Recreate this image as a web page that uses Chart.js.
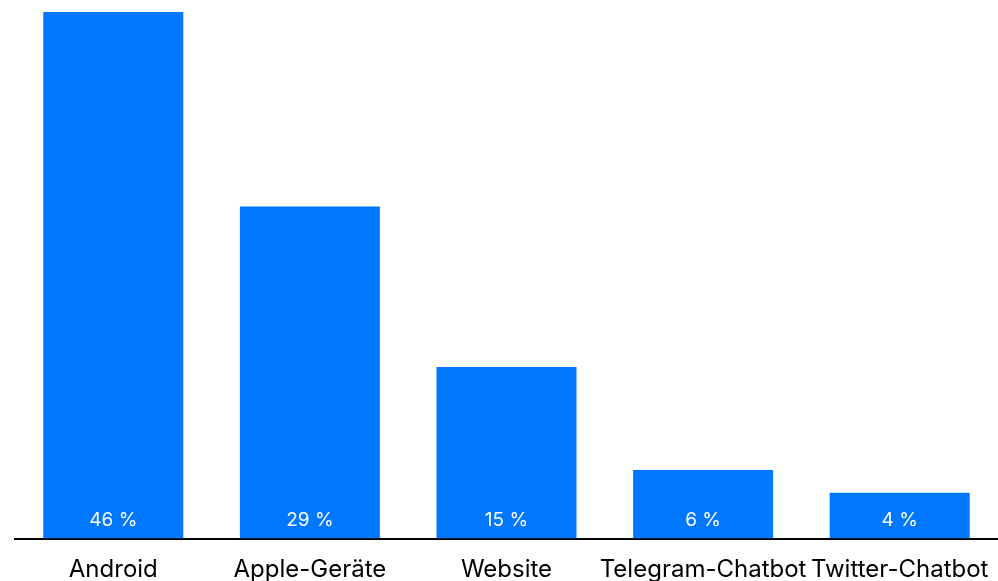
<!DOCTYPE html>
<html>
<head>
<meta charset="utf-8">
<script src="https://cdn.jsdelivr.net/npm/chart.js@4/dist/chart.umd.min.js"></script>
<style>
  html, body { margin: 0; padding: 0; background: #fff; }
  #wrap { width: 998px; height: 581px; }
</style>
</head>
<body>
<div id="wrap"><canvas id="myChart" width="998" height="581"></canvas></div>
<script>
'use strict';

const categories = ['Android', 'Apple-Geräte', 'Website', 'Telegram-Chatbot', 'Twitter-Chatbot'];
const shares = [46, 29, 15, 6, 4];
const valueLabels = ['46 %', '29 %', '15 %', '6 %', '4 %'];

const barBlue = '#0077ff';

// white percentage text at the foot of each bar
const valueLabelPlugin = {
  id: 'valueLabels',
  afterDatasetsDraw: (chart) => {
    const c = chart.ctx;
    const meta = chart.getDatasetMeta(0);
    c.save();
    c.fillStyle = '#ffffff';
    c.font = '19px Inter, "Open Sans", sans-serif';
    c.textAlign = 'center';
    c.textBaseline = 'middle';
    meta.data.forEach((bar, i) => {
      c.fillText(valueLabels[i], bar.x, bar.base - 18);
    });
    c.restore();
  }
};

const ctx = document.getElementById('myChart');
new Chart(ctx, {
  type: 'bar',
  data: {
    labels: categories,
    datasets: [{
      data: shares,
      backgroundColor: barBlue,
      borderWidth: 0,
      barPercentage: 0.8,
      categoryPercentage: 0.89
    }]
  },
  options: {
    responsive: false,
    animation: false,
    layout: { padding: { left: 15, top: 12, right: 0, bottom: -20 } },
    plugins: {
      legend: { display: false },
      tooltip: { enabled: false }
    },
    scales: {
      x: {
        grid: { display: false, drawTicks: false },
        border: { display: true, color: '#000000', width: 2 },
        ticks: {
          autoSkip: false,
          maxRotation: 0,
          padding: 3,
          color: '#000000',
          font: { family: 'Inter, "Open Sans", sans-serif', size: 24, lineHeight: 2.35 }
        }
      },
      y: {
        display: false,
        min: 0,
        max: 46
      }
    }
  },
  plugins: [valueLabelPlugin]
});
</script>
</body>
</html>
